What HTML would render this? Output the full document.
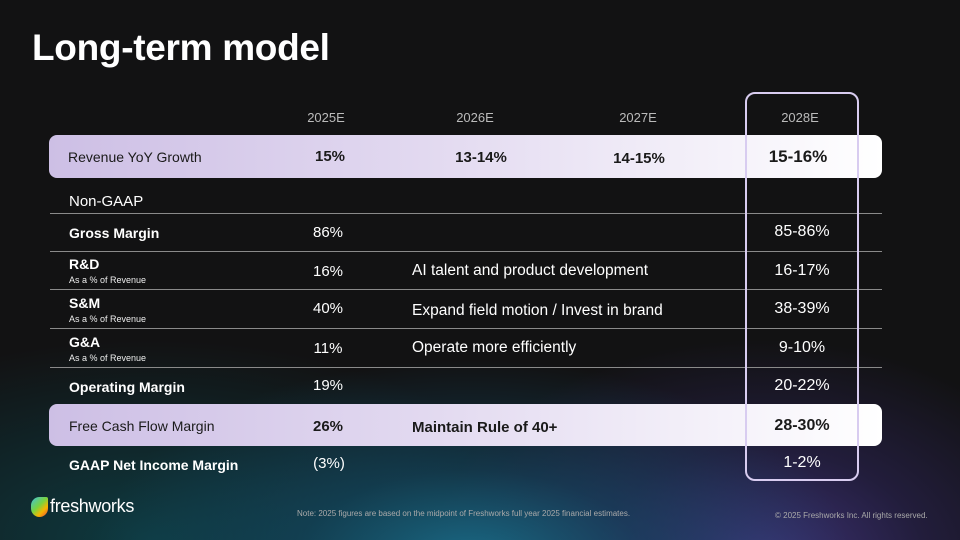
<!DOCTYPE html>
<html><head><meta charset="utf-8"><style>
*{margin:0;padding:0;box-sizing:border-box}
body{width:960px;height:540px;overflow:hidden;font-family:"Liberation Sans",sans-serif;color:#fff;position:relative;
background:radial-gradient(ellipse 380px 200px at 470px 560px,#1a6a86 0%,rgba(20,80,110,.55) 45%,rgba(0,0,0,0) 100%),
radial-gradient(ellipse 330px 220px at 760px 560px,#3e3378 0%,rgba(50,40,100,.5) 50%,rgba(0,0,0,0) 100%),
radial-gradient(ellipse 400px 200px at 150px 540px,#0e3a40 0%,rgba(0,0,0,0) 100%),#121213}
.a{position:absolute;white-space:nowrap}
.t{font-size:15px}
.b{font-size:14px;font-weight:bold}
.c{transform:translateX(-50%)}
.line{position:absolute;left:50px;width:832px;height:1px;background:#8a8a8a}
.band{position:absolute;left:49px;width:833px;border-radius:8px;background:linear-gradient(90deg,#cdbfe5 0%,#e2d9f0 45%,#fff 100%)}
.dk{color:#1a1a1a}
.sub{font-size:9px;color:#eee}
</style></head><body>
<div class="a" style="left:32px;top:27px;font-size:37px;font-weight:bold;letter-spacing:-0.3px">Long-term model</div>
<div class="a c" style="left:326px;top:110px;font-size:13px;color:#bbb">2025E</div>
<div class="a c" style="left:475px;top:110px;font-size:13px;color:#bbb">2026E</div>
<div class="a c" style="left:638px;top:110px;font-size:13px;color:#bbb">2027E</div>
<div class="a c" style="left:800px;top:110px;font-size:13px;color:#bbb">2028E</div>

<div class="band" style="top:135px;height:43px"></div>
<div class="a t dk" style="left:68px;top:149px;font-size:14px">Revenue YoY Growth</div>
<div class="a t dk c" style="left:330px;top:148px;font-weight:bold">15%</div>
<div class="a t dk c" style="left:481px;top:149px;font-weight:bold">13-14%</div>
<div class="a t dk c" style="left:639px;top:150px;font-weight:bold">14-15%</div>
<div class="a t dk c" style="left:798px;top:147px;font-size:17px;font-weight:bold">15-16%</div>

<div class="a t" style="left:69px;top:193px">Non-GAAP</div>
<div class="line" style="top:213px"></div>
<div class="a b" style="left:69px;top:225px">Gross Margin</div>
<div class="a t c" style="left:328px;top:224px">86%</div>
<div class="a c" style="left:802px;top:223px;font-size:16px">85-86%</div>
<div class="line" style="top:251px"></div>

<div class="a b" style="left:69px;top:256px">R&amp;D</div>
<div class="a sub" style="left:69px;top:275px">As a % of Revenue</div>
<div class="a t c" style="left:328px;top:263px">16%</div>
<div class="a t" style="left:412px;top:262px;font-size:15.5px">AI talent and product development</div>
<div class="a c" style="left:802px;top:262px;font-size:16px">16-17%</div>
<div class="line" style="top:289px"></div>

<div class="a b" style="left:69px;top:295px">S&amp;M</div>
<div class="a sub" style="left:69px;top:314px">As a % of Revenue</div>
<div class="a t c" style="left:328px;top:300px">40%</div>
<div class="a t" style="left:412px;top:302px;font-size:15.5px">Expand field motion / Invest in brand</div>
<div class="a c" style="left:802px;top:300px;font-size:16px">38-39%</div>
<div class="line" style="top:328px"></div>

<div class="a b" style="left:69px;top:334px">G&amp;A</div>
<div class="a sub" style="left:69px;top:353px">As a % of Revenue</div>
<div class="a t c" style="left:328px;top:340px">11%</div>
<div class="a t" style="left:412px;top:339px;font-size:15.5px">Operate more efficiently</div>
<div class="a c" style="left:802px;top:339px;font-size:16px">9-10%</div>
<div class="line" style="top:367px"></div>

<div class="a b" style="left:69px;top:379px">Operating Margin</div>
<div class="a t c" style="left:328px;top:377px">19%</div>
<div class="a c" style="left:802px;top:377px;font-size:16px">20-22%</div>

<div class="band" style="top:404px;height:42px"></div>
<div class="a t dk" style="left:69px;top:418px;font-size:14px">Free Cash Flow Margin</div>
<div class="a t dk c" style="left:328px;top:418px;font-weight:bold">26%</div>
<div class="a t dk" style="left:412px;top:419px;font-weight:bold">Maintain Rule of 40+</div>
<div class="a dk c" style="left:802px;top:417px;font-size:16px;font-weight:bold">28-30%</div>

<div class="a b" style="left:69px;top:457px">GAAP Net Income Margin</div>
<div class="a t c" style="left:329px;top:455px">(3%)</div>
<div class="a c" style="left:802px;top:454px;font-size:16px">1-2%</div>

<div class="a" style="left:745px;top:92px;width:114px;height:389px;border:2.5px solid #d8ccf0;border-radius:10px"></div>

<div class="a" style="left:31px;top:496px;display:flex;align-items:center">
<div style="width:17px;height:20px;border-radius:9px 2px 9px 9px;background:linear-gradient(135deg,#3fc1e0,#79d33f 45%,#f7b500 70%,#e8453c);margin-right:2px"></div>
<span style="font-size:18px;letter-spacing:-0.3px">freshworks</span></div>
<div class="a" style="left:297px;top:509px;font-size:8px;color:#aaa">Note: 2025 figures are based on the midpoint of Freshworks full year 2025 financial estimates.</div>
<div class="a" style="left:775px;top:511px;font-size:8px;color:#aaa">© 2025 Freshworks Inc. All rights reserved.</div>
</body></html>
